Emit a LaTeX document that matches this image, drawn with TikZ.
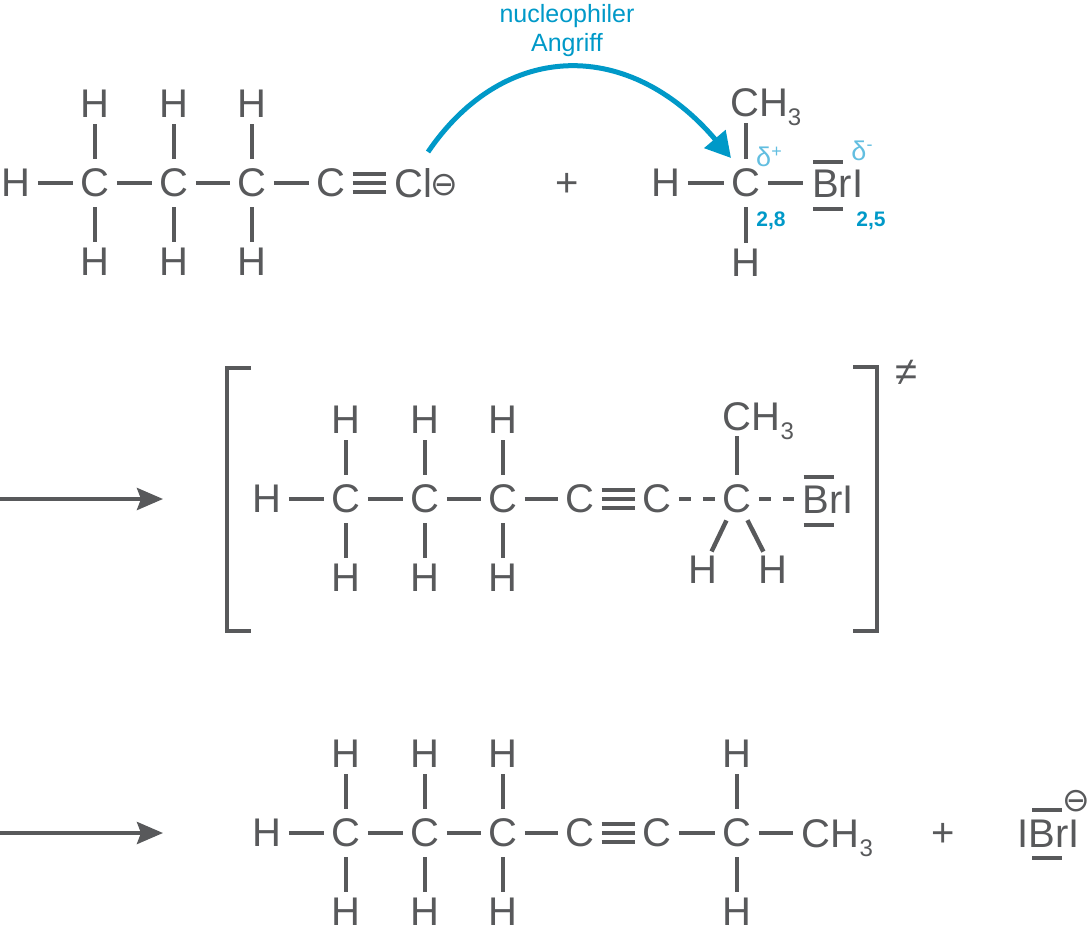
\documentclass[tikz,border=0pt]{standalone}
\usepackage{fontspec}
\setmainfont{Liberation Sans}
\newfontfamily\symbolfont{DejaVu Sans}
\usetikzlibrary{shapes.geometric}
\usetikzlibrary{arrows.meta}
\usetikzlibrary{positioning}
\definecolor{BondGrey}{HTML}{58595B}
\definecolor{AttackBlue}{HTML}{0099C8}
\definecolor{DeltaBlue}{HTML}{62BEE0}
\newcommand{\subthree}{\raisebox{-9pt}{\fontsize{24}{24}\selectfont 3}}
\newcommand{\minuscircle}{{\symbolfont\fontsize{33}{33}\selectfont ⊖}}
\newcommand{\threechain}{%
  \node[carbon] (c1) at (0,0) {C};
  \node[carbon] (c2) at (79,0) {C};
  \node[carbon] (c3) at (157,0) {C};
  \node[hydrogen] (h0) at (-79,0) {H};
  \node[hydrogen] (h1) at (0,-79) {H};
  \node[hydrogen] (h2) at (79,-79) {H};
  \node[hydrogen] (h3) at (157,-79) {H};
  \node[hydrogen] (h4) at (0,79) {H};
  \node[hydrogen] (h5) at (79,79) {H};
  \node[hydrogen] (h6) at (157,79) {H};
  \draw[bond] (h0) -- (c1);
  \draw[bond] (c1) -- (c2);
  \draw[bond] (c2) -- (c3);
  \draw[bond] (c1) -- (h1);
  \draw[bond] (c2) -- (h2);
  \draw[bond] (c3) -- (h3);
  \draw[bond] (c1) -- (h4);
  \draw[bond] (c2) -- (h5);
  \draw[bond] (c3) -- (h6);
}
\tikzset{
  every node/.style={text=BondGrey, font=\fontsize{40}{40}\selectfont, inner sep=0pt},
  carbon/.style={ellipse, minimum width=44pt, minimum height=48pt},
  hydrogen/.style={ellipse, minimum width=44pt, minimum height=40pt},
  methyl/.style={anchor=base west, text depth=0pt, inner ysep=6pt},
  halogen/.style={anchor=base west, text depth=0pt, inner xsep=9pt},
  bond/.style={line width=4.4pt, BondGrey},
  partial/.style={bond, dash pattern=on 12pt off 12pt},
  reacts/.style={line width=4pt, BondGrey, -{Stealth[length=26pt,width=22pt,inset=4pt]}},
  attack/.style={line width=5pt, AttackBlue, -{Triangle[length=25pt,width=27pt]}},
  delta/.style={text=DeltaBlue, font=\fontsize{27}{27}\selectfont},
  ladung/.style={text=AttackBlue, font=\fontsize{21}{21}\bfseries\selectfont},
}
\begin{document}
\begin{tikzpicture}[x=1pt,y=-1pt]
    \useasboundingbox (0,0) rectangle (1090,939);
    % Alkynide
    \begin{scope}[shift={(94.7,183)}, name prefix=a-]
      \threechain
      \node[carbon] (c4) at (236,0) {C};
      \node[halogen] (cl) at (291,14.5) {Cl\kern-2pt\raisebox{2pt}{\minuscircle}};
      \draw[bond] (c3) -- (c4);
      \draw[bond, shorten <=22pt] ([yshift=-9pt]c4.center) -- ([yshift=-9pt]c4.center -| cl.west);
      \draw[bond, shorten <=22pt] (c4.center) -- (c4.center -| cl.west);
      \draw[bond, shorten <=22pt] ([yshift=9pt]c4.center) -- ([yshift=9pt]c4.center -| cl.west);
    \end{scope}
    \node (plusa) at (567,185) {+};
    % Substrate
    \node[carbon] (mc) at (745.7,183) {C};
    \node[hydrogen] (mh1) at (665.7,183) {H};
    \node[hydrogen] (mh2) at (745.7,263) {H};
    \node[methyl] (mme) at (730,117) {CH\subthree};
    \node[halogen] (mbr) at (803,197.5) {BrI};
    \draw[bond] (mh1) -- (mc);
    \draw[bond] (mc) -- (mh2);
    \draw[bond] (mc) -- (mc |- mme.south);
    \draw[bond] (mc) -- (mc -| mbr.west);
    \draw[bond] ([xshift=10pt,yshift=-25pt]mbr.west) -- ++(30,0);
    \draw[bond] ([xshift=10pt,yshift=22pt]mbr.west) -- ++(30,0);
    \node[delta] (dp) at (769,157) {δ\raisebox{9pt}{\fontsize{18}{18}\selectfont +}};
    \node[delta] (dm) at (862,151) {δ\raisebox{10pt}{\fontsize{18}{18}\selectfont -}};
    \node[ladung] (en1) at (771,221) {2,8};
    \node[ladung] (en2) at (871,221) {2,5};
    % Attack
    \node[text=AttackBlue, font=\fontsize{25}{29}\selectfont, align=center] (att) at (567,30.5) {nucleophiler\\Angriff};
    \coordinate (astart) at (428,152);
    \coordinate (aend) at (731,158);
    \draw[attack] (astart) .. controls (505,39) and (630,39) .. (aend);
    % Transition state
    \coordinate (ar1a) at (0,499);
    \coordinate (ar1b) at (163,499);
    \draw[reacts] (ar1a) -- (ar1b);
    \begin{scope}[shift={(345.7,499)}, name prefix=b-]
      \threechain
      \node[carbon] (c4) at (234,0) {C};
      \node[carbon] (c5) at (311,0) {C};
      \node[carbon] (c6) at (391,0) {C};
      \node[hydrogen] (h7) at (357,71) {H};
      \node[hydrogen] (h8) at (427,71) {H};
      \node[methyl] (me) at (377,-69) {CH\subthree};
      \node[halogen] (br) at (448,14.5) {BrI};
      \draw[bond] (c3) -- (c4);
      \draw[bond, shorten <=22pt, shorten >=22pt] ([yshift=-9pt]c4.center) -- ([yshift=-9pt]c5.center);
      \draw[bond] (c4) -- (c5);
      \draw[bond, shorten <=22pt, shorten >=22pt] ([yshift=9pt]c4.center) -- ([yshift=9pt]c5.center);
      \draw[partial] (c5) -- (c6);
      \draw[partial] (c6) -- (c6 -| br.west);
      \draw[bond] (c6) -- (c6 |- me.south);
      \draw[bond] (c6) -- (h7);
      \draw[bond] (c6) -- (h8);
      \draw[bond] ([xshift=10pt,yshift=-25pt]br.west) -- ++(30,0);
      \draw[bond] ([xshift=10pt,yshift=23pt]br.west) -- ++(30,0);
    \end{scope}
    % Brackets
    \coordinate (bla) at (251,368);
    \coordinate (blb) at (251,631);
    \coordinate (bra) at (853,367);
    \coordinate (brb) at (853,631);
    \draw[line width=4pt, BondGrey] (bla) -- (227,368) -- (227,631) -- (blb);
    \draw[line width=4pt, BondGrey] (bra) -- (877,367) -- (877,631) -- (brb);
    \node (ne) at (906.5,373) {≠};
    % Products
    \coordinate (ar2a) at (0,833);
    \coordinate (ar2b) at (163,833);
    \draw[reacts] (ar2a) -- (ar2b);
    \begin{scope}[shift={(345.7,833)}, name prefix=c-]
      \threechain
      \node[carbon] (c4) at (234,0) {C};
      \node[carbon] (c5) at (311,0) {C};
      \node[carbon] (c6) at (391,0) {C};
      \node[hydrogen] (h7) at (391,-79) {H};
      \node[hydrogen] (h8) at (391,79) {H};
      \node[halogen] (me) at (447,14.5) {CH\subthree};
      \draw[bond] (c3) -- (c4);
      \draw[bond, shorten <=22pt, shorten >=22pt] ([yshift=-9pt]c4.center) -- ([yshift=-9pt]c5.center);
      \draw[bond] (c4) -- (c5);
      \draw[bond, shorten <=22pt, shorten >=22pt] ([yshift=9pt]c4.center) -- ([yshift=9pt]c5.center);
      \draw[bond] (c5) -- (c6);
      \draw[bond] (c6) -- (h7);
      \draw[bond] (c6) -- (h8);
      \draw[bond] (c6) -- (c6 -| me.west);
    \end{scope}
    \node (plusc) at (943,835) {+};
    \node[anchor=base west] (ibr) at (1017,847.5) {IBrI};
    \draw[bond] ([xshift=15pt,yshift=-24pt]ibr.west) -- ++(30,0);
    \draw[bond] ([xshift=15pt,yshift=24pt]ibr.west) -- ++(30,0);
    \node (neg) at (1076,801) {\minuscircle};
  \end{tikzpicture}
\end{document}
